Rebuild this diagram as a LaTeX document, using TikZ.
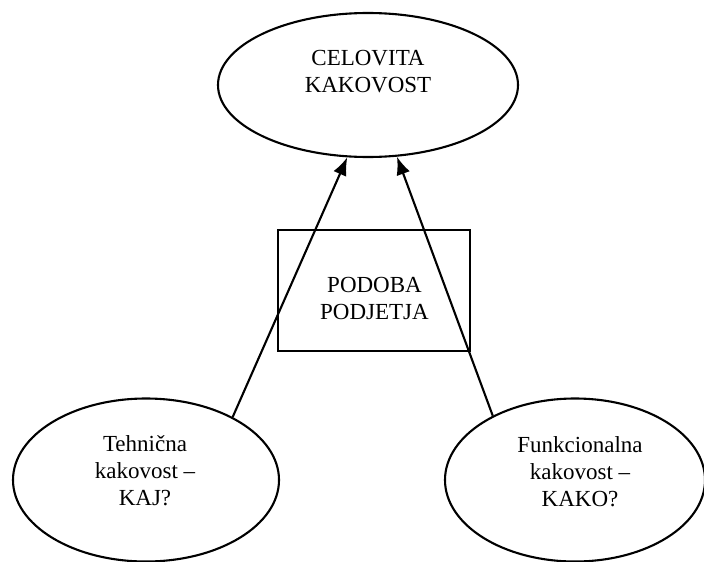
\documentclass[tikz,border=0pt]{standalone}
\usepackage{fontspec}
\setmainfont{Liberation Serif}
\usetikzlibrary{shapes.geometric,arrows.meta}
\begin{document}
\begin{tikzpicture}[x=1pt,y=-1pt,
  oval/.style={draw,line width=2.1pt,ellipse,inner sep=0pt},
  box/.style={draw,line width=2.1pt,rectangle,inner sep=0pt},
  lbl/.style={align=center,inner sep=0pt,font=\fontsize{23}{27}\selectfont},
  conn/.style={line width=2.1pt,-{Latex[length=18pt,width=14pt]}}]
\useasboundingbox (0,0) rectangle (704,562);
\node[oval,minimum width=300pt,minimum height=144pt] (T) at (368,85) {};
\node[lbl] (Tl) at (368,71.5) {CELOVITA\\KAKOVOST};
\node[box,minimum width=192pt,minimum height=121pt] (P) at (374,290.5) {};
\node[lbl] (Pl) at (374.5,298) {PODOBA\\PODJETJA};
\node[oval,minimum width=266pt,minimum height=163pt] (L) at (146,480) {};
\node[lbl] (Ll) at (145,471) {Tehnična\\kakovost –\\KAJ?};
\node[oval,minimum width=260pt,minimum height=163pt] (R) at (575,480) {};
\node[lbl] (Rl) at (580,472) {Funkcionalna\\kakovost –\\KAKO?};
\draw[conn] (L.36.3) -- (T.254.7);
\draw[conn] (R.142.4) -- (T.292.3);
\end{tikzpicture}
\end{document}
